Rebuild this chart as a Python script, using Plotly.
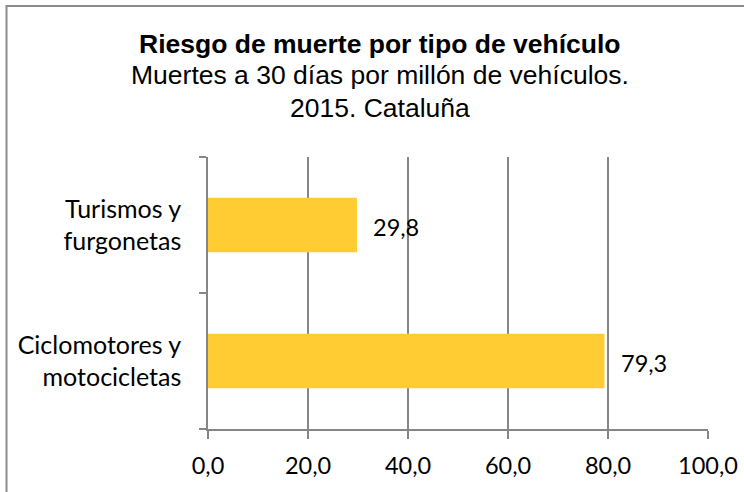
import plotly.graph_objects as go

# datos
categorias = ["Ciclomotores y<br>motocicletas", "Turismos y<br>furgonetas"]
muertes = [79.3, 29.8]
ticks_x = [0, 20, 40, 60, 80, 100]
ticks_txt = ["0,0", "20,0", "40,0", "60,0", "80,0", "100,0"]

W, H = 744, 492
L, R, T, B = 208, 708, 157, 429   # area de trazado en pixeles

def px_x(p):
    return (p - L) / (R - L)

def px_y(p):
    return (B - p) / (B - T)

gris = "#868686"
fuente_num = dict(family="Lato", size=23.5, color="black")

fig = go.Figure()
fig.add_trace(go.Bar(
    y=categorias, x=muertes, orientation="h",
    marker=dict(color="#FFCD33", line=dict(width=0)),
    hoverinfo="skip",
))

# etiquetas de datos
for cat, v in zip(categorias, muertes):
    fig.add_annotation(x=v, y=cat, text=f"{v:.1f}".replace(".", ","),
                       showarrow=False, xanchor="left", xshift=14, yshift=-2,
                       font=fuente_num)

# titulo
titulo = [("<b>Riesgo de muerte por tipo de vehículo</b>", 44, 26.5),
          ("Muertes a 30 días por millón de vehículos.", 75, 26.5),
          ("2015. Cataluña", 108, 26.5)]
for txt, py, sz in titulo:
    fig.add_annotation(xref="paper", yref="paper", x=px_x(380), y=px_y(py),
                       text=txt, showarrow=False, xanchor="center", yanchor="middle",
                       font=dict(family="Liberation Sans, Arial", size=sz, color="black"))

# borde del grafico
fig.add_shape(type="rect", xref="paper", yref="paper",
              x0=px_x(6.5), x1=px_x(760), y0=px_y(6), y1=px_y(500),
              line=dict(color="#8c8c8c", width=2), layer="above")

fig.update_layout(
    width=W, height=H,
    margin=dict(l=L, r=W - R, t=T, b=H - B),
    paper_bgcolor="white", plot_bgcolor="white",
    showlegend=False, bargap=0.6,
    font=fuente_num,
)
fig.update_xaxes(range=[0, 100], tickvals=ticks_x, ticktext=ticks_txt,
                 showgrid=True, gridcolor=gris, gridwidth=1.5,
                 ticks="outside", ticklen=8, tickcolor=gris, tickwidth=1.5,
                 showline=True, linecolor=gris, linewidth=1.5,
                 zeroline=False, tickfont=fuente_num, ticklabelstandoff=7,
                 automargin=False, fixedrange=True)
fig.update_yaxes(type="category", categoryorder="array", categoryarray=categorias,
                 ticks="outside", tickson="boundaries", ticklen=7,
                 tickcolor=gris, tickwidth=1.5,
                 showline=True, linecolor=gris, linewidth=1.5,
                 showgrid=False, tickfont=dict(family="Lato", size=25, color="black"),
                 ticklabelstandoff=20, automargin=False, fixedrange=True)

fig.write_html("out.html", config={"displayModeBar": False},
               post_script="document.body.style.margin='0';")
